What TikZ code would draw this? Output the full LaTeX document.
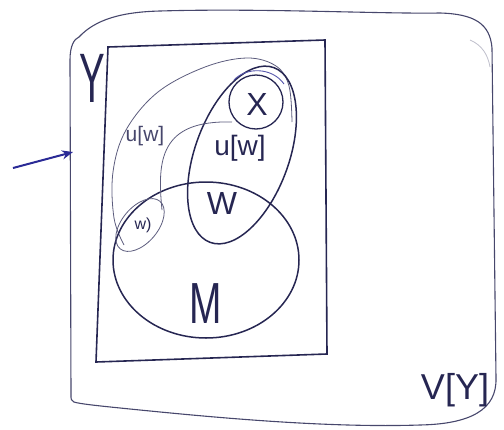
\documentclass[tikz,border=0pt]{standalone}
\usepackage{fontspec}
\setmainfont{Liberation Sans}
\usetikzlibrary{shapes.geometric,arrows.meta}
\definecolor{ink}{RGB}{38,38,82}
\definecolor{pen}{RGB}{42,42,150}
\begin{document}
\begin{tikzpicture}[x=1pt,y=-1pt,
  stroke/.style={draw=ink,line width=1.5pt},
  faint/.style={draw=ink!75,line width=0.8pt},
  region/.style={ellipse,inner sep=0pt},
  lbl/.style={text=ink,inner sep=0pt},
  fs/.style={font=\fontsize{#1}{#1}\selectfont}]
\useasboundingbox (0,0) rectangle (504,429);

% outer frame V[Y]
\draw[draw=ink!85,line width=1.1pt]
  (71,395) -- (70,60) .. controls (70,46) and (74,39) .. (79,37)
  .. controls (95,20) and (120,12) .. (160,11)
  .. controls (260,8) and (380,14) .. (440,13)
  .. controls (475,14) and (490,24) .. (492,48)
  -- (496,378) .. controls (497,410) and (470,424) .. (420,425)
  .. controls (330,428) and (220,418) .. (140,410)
  .. controls (100,406) and (80,404) .. (74,402)
  .. controls (71,401) and (71,399) .. cycle;
\draw[ink!30,line width=0.8pt] (470,40) .. controls (482,45) and (488,55) .. (490,67);

% inner frame Y
\draw[draw=ink,line width=1.6pt]
  (108,47) -- (325,40) -- (327,354) -- (96,362) -- cycle;

% thin outline of the large left region
\draw[faint] plot[smooth,tension=0.6] coordinates
  {(124,245) (114,218) (113,172) (126,130) (158,92) (205,67) (247,58) (276,66) (289,86) (292,122)};

% regions
\node[region,stroke,minimum width=186pt,minimum height=94pt,rotate=70] (Wr) at (242,155) {};
\node[region,stroke,minimum width=186pt,minimum height=156pt] (M) at (206,260) {};
\node[circle,stroke,line width=1.3pt,minimum size=54pt,inner sep=0pt] (X) at (256,102) {};
\draw[pen!80,line width=0.9pt] (234,80) .. controls (246,67) and (272,67) .. (284,84);
\node[region,faint,minimum width=62pt,minimum height=36pt,rotate=50] (w1) at (140,225) {};

% boundary of the left u[w] part
\coordinate (c1) at (162,210);
\coordinate (c2) at (232,122);
\draw[faint] (c1) .. controls (157,160) and (160,120) .. (c2);

% entry arrow
\coordinate (tail) at (13,168);
\coordinate (head) at (73,152);
\draw[pen,line width=2pt,-{Stealth[length=11pt,width=9pt]}] (tail) -- (head);

% labels
\node[lbl,fs=32] (lx) at (257,104) {X};
\node[lbl,fs=28] (luw) at (240,148) {u[w]};
\node[lbl,fs=21,text=ink!85] (luw2) at (145,136) {u[w]};
\node[lbl,fs=32] (lw) at (222,203) {W};
\node[lbl,fs=58,xscale=0.67] (lm) at (206,304) {M};
\node[lbl,fs=16] (lw1) at (143,225) {w)};
\node[lbl,fs=70,xscale=0.55] (ly) at (92,78) {Y};
\node[lbl,fs=36] (lv) at (455,390) {V[Y]};
\end{tikzpicture}
\end{document}
